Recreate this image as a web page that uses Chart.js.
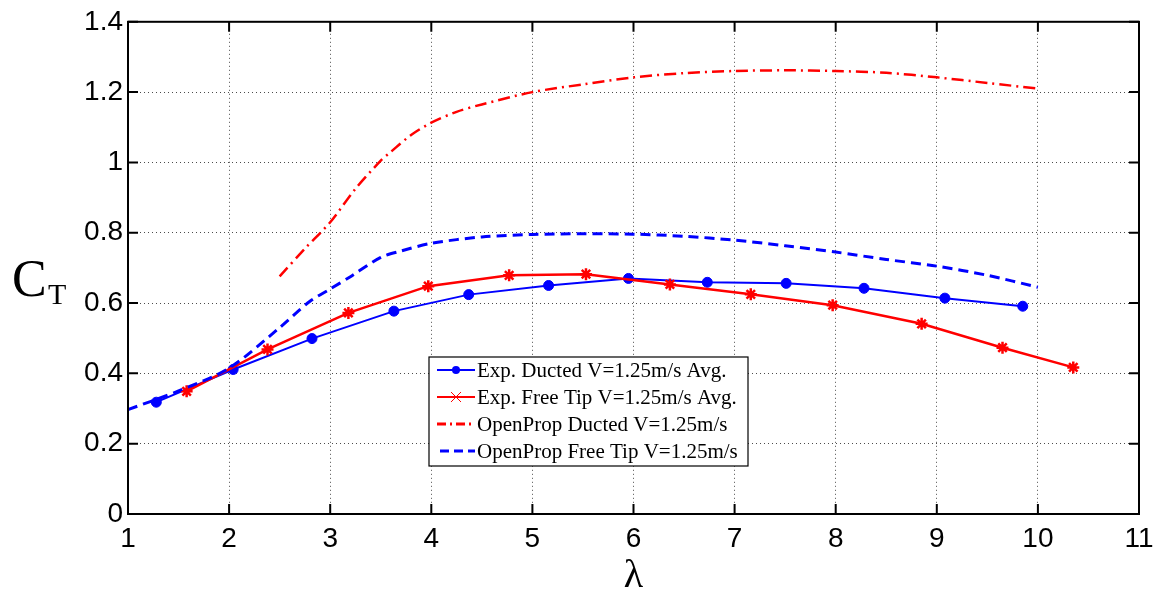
<!DOCTYPE html>
<html>
<head>
<meta charset="utf-8">
<script src="https://cdn.jsdelivr.net/npm/chart.js@4"></script>
<style>
  html, body { margin: 0; padding: 0; background: #fff; }
  #wrap { width: 1168px; height: 596px; position: relative; }
</style>
</head>
<body>
<div id="wrap"><canvas id="ctChart"></canvas></div>
<script>
// Exp. Ducted V=1.25m/s Avg.
const ductedExpX = [1.28, 2.04, 2.82, 3.63, 4.37, 5.16, 5.95, 6.73, 7.51, 8.28, 9.08, 9.85];
const ductedExpY = [0.318, 0.411, 0.499, 0.577, 0.624, 0.650, 0.670, 0.659, 0.656, 0.642, 0.614, 0.591];

// Exp. Free Tip V=1.25m/s Avg.
const freeExpX = [1.58, 2.38, 3.18, 3.97, 4.77, 5.53, 6.36, 7.16, 7.97, 8.85, 9.65, 10.35];
const freeExpY = [0.349, 0.468, 0.572, 0.648, 0.679, 0.682, 0.653, 0.625, 0.594, 0.541, 0.473, 0.417];

// OpenProp Ducted V=1.25m/s
const opDuctedX = [2.5, 2.75, 3.0, 3.25, 3.5, 3.6, 3.8, 4.0, 4.25, 4.5, 5.0, 5.5, 6.0, 6.5, 7.0, 7.5, 8.0, 8.5, 9.0, 9.5, 10.0];
const opDuctedY = [0.676, 0.755, 0.83, 0.925, 1.005, 1.03, 1.078, 1.113, 1.144, 1.165, 1.2, 1.222, 1.242, 1.254, 1.26, 1.262, 1.26, 1.255, 1.242, 1.226, 1.21];

// OpenProp Free Tip V=1.25m/s
const opFreeX = [1.0, 1.5, 2.0, 2.5, 2.8, 3.0, 3.2, 3.5, 3.7, 4.0, 4.5, 5.0, 5.5, 6.0, 6.5, 7.0, 7.5, 8.0, 8.5, 9.0, 9.5, 10.0];
const opFreeY = [0.297, 0.35, 0.415, 0.53, 0.605, 0.64, 0.675, 0.73, 0.748, 0.77, 0.788, 0.795, 0.797, 0.796, 0.790, 0.779, 0.763, 0.745, 0.724, 0.705, 0.679, 0.645];

const xTicks = [1, 2, 3, 4, 5, 6, 7, 8, 9, 10, 11];
const yTicks = [0, 0.2, 0.4, 0.6, 0.8, 1, 1.2, 1.4];

const legendLabels = [
    'Exp. Ducted V=1.25m/s Avg.',
    'Exp. Free Tip V=1.25m/s Avg.',
    'OpenProp Ducted V=1.25m/s',
    'OpenProp Free Tip V=1.25m/s'
];

const toPts = (xs, ys) => xs.map((x, i) => ({ x: x, y: ys[i] }));

// marco negro con marcas hacia dentro, titulos y leyenda (estilo Matlab)
const matlabFrame = {
    id: 'matlabFrame',
    afterDraw(chart) {
        const ctx = chart.ctx;
        const a = chart.chartArea;
        const xs = chart.scales.x, ys = chart.scales.y;
        ctx.save();
        ctx.strokeStyle = '#000';
        ctx.lineWidth = 2;
        ctx.strokeRect(a.left, a.top, a.right - a.left, a.bottom - a.top);
        ctx.beginPath();
        xTicks.forEach(v => {
            const px = xs.getPixelForValue(v);
            ctx.moveTo(px, a.bottom); ctx.lineTo(px, a.bottom - 10);
            ctx.moveTo(px, a.top); ctx.lineTo(px, a.top + 10);
        });
        yTicks.forEach(v => {
            const py = ys.getPixelForValue(v);
            ctx.moveTo(a.left, py); ctx.lineTo(a.left + 10, py);
            ctx.moveTo(a.right, py); ctx.lineTo(a.right - 10, py);
        });
        ctx.stroke();

        // titulos de ejes
        ctx.fillStyle = '#000';
        ctx.textAlign = 'center';
        ctx.textBaseline = 'alphabetic';
        ctx.font = '40px "Liberation Serif", serif';
        ctx.fillText('\u03bb', (a.left + a.right) / 2, 587);
        ctx.textAlign = 'left';
        ctx.font = '52px "Liberation Serif", serif';
        ctx.fillText('C', 12, 296);
        ctx.font = '30px "Liberation Serif", serif';
        ctx.fillText('T', 48, 304);

        // leyenda
        const lx = 429, ly = 357, lw = 319, lh = 109;
        ctx.fillStyle = '#fff';
        ctx.fillRect(lx, ly, lw, lh);
        ctx.lineWidth = 1.2;
        ctx.strokeStyle = '#000';
        ctx.strokeRect(lx, ly, lw, lh);
        const rows = [370, 397, 424, 451];
        const sx0 = lx + 8, sx1 = lx + 46;
        ctx.font = '21px "Liberation Serif", serif';
        ctx.textBaseline = 'middle';
        rows.forEach((ry, i) => {
            ctx.beginPath();
            if (i === 0) { ctx.strokeStyle = '#0000ff'; ctx.lineWidth = 2; ctx.setLineDash([]); }
            if (i === 1) { ctx.strokeStyle = '#ff0000'; ctx.lineWidth = 2; ctx.setLineDash([]); }
            if (i === 2) { ctx.strokeStyle = '#ff0000'; ctx.lineWidth = 3; ctx.setLineDash([9, 4, 2, 4]); }
            if (i === 3) { ctx.strokeStyle = '#0000ff'; ctx.lineWidth = 3; ctx.setLineDash([9, 5]); }
            ctx.moveTo(sx0 + (i === 3 ? 3 : 0), ry);
            ctx.lineTo(sx1, ry);
            ctx.stroke();
            ctx.setLineDash([]);
            const cx = (sx0 + sx1) / 2;
            if (i === 0) {
                ctx.fillStyle = '#0000ff';
                ctx.beginPath(); ctx.arc(cx, ry, 4, 0, Math.PI * 2); ctx.fill();
            }
            if (i === 1) {
                ctx.strokeStyle = '#ff0000'; ctx.lineWidth = 1;
                ctx.beginPath();
                ctx.moveTo(cx - 5, ry - 5); ctx.lineTo(cx + 5, ry + 5);
                ctx.moveTo(cx - 5, ry + 5); ctx.lineTo(cx + 5, ry - 5);
                ctx.stroke();
            }
            ctx.fillStyle = '#000';
            ctx.fillText(legendLabels[i], sx1 + 2, ry + 1);
        });
        ctx.restore();
    }
};

const ctx = document.getElementById('ctChart').getContext('2d');
new Chart(ctx, {
    type: 'line',
    data: {
        datasets: [
            {
                label: legendLabels[3],
                data: toPts(opFreeX, opFreeY),
                borderColor: '#0000ff',
                borderWidth: 3,
                borderDash: [10, 6],
                pointRadius: 0,
                tension: 0.3,
                fill: false
            },
            {
                label: legendLabels[2],
                data: toPts(opDuctedX, opDuctedY),
                borderColor: '#ff0000',
                borderWidth: 2.5,
                borderDash: [12, 5, 2, 5],
                pointRadius: 0,
                tension: 0.3,
                fill: false
            },
            {
                label: legendLabels[1],
                data: toPts(freeExpX, freeExpY),
                borderColor: '#ff0000',
                borderWidth: 2.5,
                pointStyle: 'star',
                pointRadius: 6,
                pointBorderWidth: 2.5,
                pointBorderColor: '#ff0000',
                pointBackgroundColor: '#0000ff',
                tension: 0,
                fill: false
            },
            {
                label: legendLabels[0],
                data: toPts(ductedExpX, ductedExpY),
                borderColor: '#0000ff',
                borderWidth: 2,
                pointStyle: 'circle',
                pointRadius: 5,
                pointBorderWidth: 1,
                pointBorderColor: '#0000ff',
                pointBackgroundColor: '#0000ff',
                tension: 0,
                fill: false
            }
        ]
    },
    options: {
        responsive: true,
        maintainAspectRatio: false,
        animation: false,
        layout: { padding: { top: 17, right: 29, left: 0, bottom: 0 } },
        plugins: {
            legend: { display: false },
            tooltip: { enabled: false }
        },
        scales: {
            x: {
                type: 'linear',
                min: 1,
                max: 11,
                afterFit: s => { s.height = 82; },
                afterBuildTicks: s => { s.ticks = xTicks.map(v => ({ value: v })); },
                ticks: {
                    color: '#000',
                    padding: 8,
                    maxRotation: 0,
                    font: { family: '"Liberation Sans", Arial, sans-serif', size: 28 },
                    callback: v => String(v)
                },
                grid: { color: 'rgba(0,0,0,0.7)', lineWidth: 1, drawTicks: false },
                border: { display: false, dash: [1, 3] }
            },
            y: {
                type: 'linear',
                min: 0,
                max: 1.4,
                afterFit: s => { s.width = 128; },
                afterBuildTicks: s => { s.ticks = yTicks.map(v => ({ value: v })); },
                ticks: {
                    color: '#000',
                    padding: 5,
                    font: { family: '"Liberation Sans", Arial, sans-serif', size: 28 },
                    callback: v => String(parseFloat(v.toFixed(1)))
                },
                grid: { color: 'rgba(0,0,0,0.7)', lineWidth: 1, drawTicks: false },
                border: { display: false, dash: [1, 3] }
            }
        }
    },
    plugins: [matlabFrame]
});
</script>
</body>
</html>
